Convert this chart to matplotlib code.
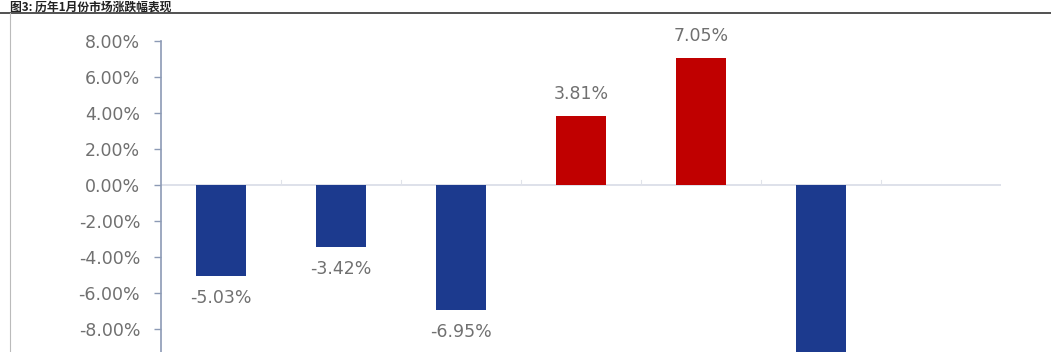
import numpy as np
import matplotlib
matplotlib.use('Agg')
import matplotlib.pyplot as plt
from matplotlib.ticker import FuncFormatter, FixedLocator

plt.rcParams['font.family'] = ['Noto Sans CJK SC', 'DejaVu Sans']

title = '图3: 历年1月份市场涨跌幅表现'
categories = ['1', '2', '3', '4', '5', '6', '7']
values = [-5.03, -3.42, -6.95, 3.81, 7.05, -10.80, np.nan]
labels = ['-5.03%', '-3.42%', '-6.95%', '3.81%', '7.05%', '-10.80%', '']
yticks = [8, 6, 4, 2, 0, -2, -4, -6, -8]

blue = '#1c3a8e'
red = '#c00000'
txt = '#707070'

fig = plt.figure(figsize=(10.51, 3.52), dpi=100)

# title and frame lines
fig.text(10 / 1051, 1 - 1 / 352, title, fontsize=8.5, fontweight='bold',
         color='#222222', va='top', ha='left')
fig.add_artist(plt.Line2D([0, 1], [1 - 13 / 352, 1 - 13 / 352], color='#333333', lw=1.2))
fig.add_artist(plt.Line2D([10 / 1051, 10 / 1051], [0, 1 - 13 / 352], color='#bbbbbb', lw=0.8))

ax = fig.add_axes([161 / 1051, 0, 840 / 1051, 311 / 352])
x = np.arange(len(categories))
colors = [red if (v == v and v > 0) else blue for v in values]
bars = ax.bar(x, np.nan_to_num(values), width=0.42, color=colors, zorder=3)

for xi, v, lab in zip(x, values, labels):
    if v != v:
        continue
    off = 16 if v > 0 else -16
    ax.annotate(lab, (xi, v), xytext=(0, off), textcoords='offset points',
                ha='center', va='center', fontsize=12.5, color=txt, family='DejaVu Sans')

ax.set_xlim(-0.5, len(categories) - 0.5)
ax.set_ylim(-9.28, 8)
ax.yaxis.set_major_locator(FixedLocator(yticks))
ax.yaxis.set_major_formatter(FuncFormatter(lambda v, p: '%.2f%%' % v))
ax.tick_params(axis='y', length=5, width=1, color='#8c9ab5', labelsize=12.5,
               labelcolor=txt, pad=10)
for t in ax.get_yticklabels():
    t.set_family('DejaVu Sans')
ax.set_xticks([])
ax.axhline(0, color='#d8dce6', lw=1.2, zorder=2)
# small category separator ticks on the zero line
for b in np.arange(0.5, len(categories) - 0.5, 1):
    ax.plot([b, b], [0, 0.25], color='#e0e3ea', lw=0.8, zorder=2)

for s in ['top', 'right', 'bottom']:
    ax.spines[s].set_visible(False)
ax.spines['left'].set_color('#8c9ab5')
ax.spines['left'].set_linewidth(1.2)

fig.savefig('out.png', dpi=100)
